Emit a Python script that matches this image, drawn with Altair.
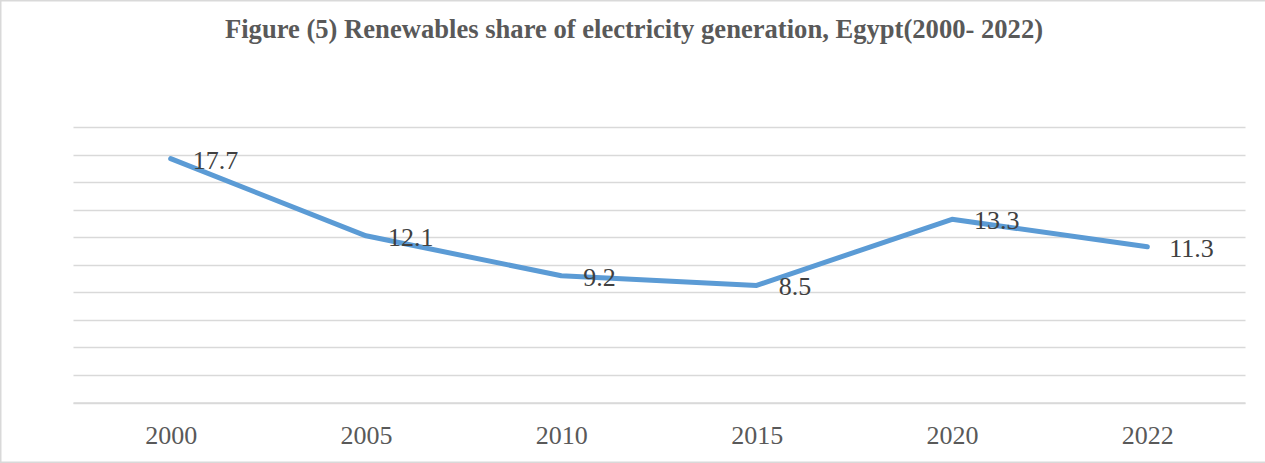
import altair as alt
import pandas as pd

years = ["2000", "2005", "2010", "2015", "2020", "2022"]
share = [17.7, 12.1, 9.2, 8.5, 13.3, 11.3]

df = pd.DataFrame({"year": years, "share": share})

W, H = 1172, 275.5
PAD_L, PAD_T, PAD_R, PAD_B = 73, 127, 20, 60.5

x_enc = alt.X(
    "year:N",
    sort=years,
    title=None,
    scale=alt.Scale(type="point", padding=0.5),
    axis=alt.Axis(
        labelAngle=0,
        ticks=False,
        tickSize=0,
        grid=False,
        domainColor="#d9d9d9",
        domainWidth=1.3,
        labelFont="Liberation Serif",
        labelFontSize=26,
        labelColor="#595959",
        labelBaseline="alphabetic",
        labelPadding=41,
    ),
)
y_enc = alt.Y(
    "share:Q",
    title=None,
    scale=alt.Scale(domain=[0, 20], nice=False, zero=True),
    axis=alt.Axis(
        values=list(range(0, 21, 2)),
        labels=False,
        ticks=False,
        domain=False,
        grid=True,
        gridColor="#d9d9d9",
        gridWidth=1.3,
    ),
)

base = alt.Chart(df).encode(x=x_enc, y=y_enc)

line = base.mark_line(
    color="#5B9BD5", strokeWidth=5, strokeCap="round", strokeJoin="round"
)

labels = base.mark_text(
    align="left",
    baseline="alphabetic",
    dx=22,
    dy=10,
    font="Liberation Serif",
    fontSize=26,
    color="#404040",
).encode(text=alt.Text("share:Q", format=".1f"))

# outer frame of the figure
frame = (
    alt.Chart(alt.Data(values=[{"k": 1}]))
    .mark_rect(fill=None, stroke="#d9d9d9", strokeWidth=1.5, clip=False)
    .encode(
        x=alt.value(-PAD_L + 0.75),
        x2=alt.value(W + PAD_R + 10),
        y=alt.value(-PAD_T + 0.75),
        y2=alt.value(H + PAD_B - 0.75),
    )
)

chart = (
    alt.layer(frame, line, labels)
    .properties(
        width=W,
        height=H,
        background="white",
        padding={"left": PAD_L, "top": PAD_T, "right": PAD_R, "bottom": PAD_B},
        autosize=alt.AutoSizeParams(type="none"),
        title=alt.TitleParams(
            "Figure (5) Renewables share of electricity generation, Egypt(2000- 2022)",
            font="Liberation Serif",
            fontSize=26.6,
            fontWeight="bold",
            color="#595959",
            anchor="middle",
            baseline="alphabetic",
            # the frame reaches the top edge, so the title is pulled back down inside it
            offset=-65,
            dx=-25,
        ),
    )
    .configure_view(stroke="transparent", strokeWidth=0)
)

chart.save("out.html", embed_options={"renderer": "svg", "actions": False})
